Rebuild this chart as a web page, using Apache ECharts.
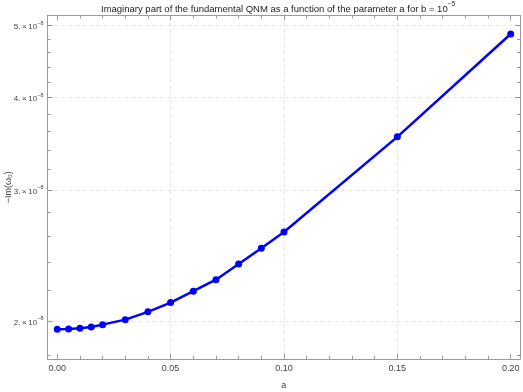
<!DOCTYPE html>
<html>
<head>
<meta charset="utf-8">
<script src="https://cdn.jsdelivr.net/npm/echarts@6/dist/echarts.min.js"></script>
<style>
  html, body { margin: 0; padding: 0; background: #fff; }
  #chart { width: 523px; height: 392px; }
</style>
</head>
<body>
<div id="chart"></div>
<script>
// parameter a and -Im(w0)
const aValues = [0, 0.005, 0.01, 0.015, 0.02, 0.03, 0.04, 0.05, 0.06, 0.07, 0.08, 0.09, 0.1, 0.15, 0.2];
const imValues = [1.949e-8, 1.950e-8, 1.955e-8, 1.963e-8, 1.977e-8, 2.008e-8, 2.057e-8, 2.117e-8,
  2.193e-8, 2.273e-8, 2.387e-8, 2.506e-8, 2.636e-8, 3.541e-8, 4.873e-8];

const xMajorTicks = [0, 0.05, 0.1, 0.15, 0.2];
const xMinorTicks = [0.01, 0.02, 0.03, 0.04, 0.06, 0.07, 0.08, 0.09, 0.11, 0.12, 0.13, 0.14,
  0.16, 0.17, 0.18, 0.19];
const xGridLines = [0.05, 0.1, 0.15];
const yMajorTicks = [2e-8, 3e-8, 4e-8, 5e-8];
const yMinorTicks = [1.8e-8, 2.2e-8, 2.4e-8, 2.6e-8, 2.8e-8, 3.2e-8, 3.4e-8, 3.6e-8, 3.8e-8,
  4.2e-8, 4.4e-8, 4.6e-8, 4.8e-8];

const X_MIN = -0.0043;
const X_MAX = 0.2041;
const Y_MIN = 1.777e-8;
const Y_MAX = 5.161e-8;

const FONT = 'Liberation Sans';
const FRAME = '#9a9a9a';
const TXT = '#444';

const chart = echarts.init(document.getElementById('chart'));

// one axis that only draws a set of ticks (frame ticks point inward)
function xTicks(pos, values, len, showLine) {
  return {
    type: 'value', position: pos, min: X_MIN, max: X_MAX,
    axisLine: { show: showLine, onZero: false, lineStyle: { color: FRAME, width: 1 } },
    axisTick: { show: true, inside: true, length: len, customValues: values, lineStyle: { color: FRAME } },
    axisLabel: { show: false },
    splitLine: { show: false },
  };
}
function yTicks(pos, values, len, showLine) {
  return {
    type: 'log', position: pos, min: Y_MIN, max: Y_MAX,
    axisLine: { show: showLine, onZero: false, lineStyle: { color: FRAME, width: 1 } },
    axisTick: { show: true, inside: true, length: len, customValues: values, lineStyle: { color: FRAME } },
    axisLabel: { show: false },
    splitLine: { show: false },
  };
}

const xMain = xTicks('bottom', xMajorTicks, 5, true);
xMain.name = 'a';
xMain.nameLocation = 'middle';
xMain.nameGap = 22;
xMain.nameMoveOverlap = false;
xMain.nameTextStyle = { fontFamily: FONT, fontSize: 9, color: TXT };
xMain.axisLabel = {
  show: true, customValues: xMajorTicks, margin: 5,
  fontFamily: FONT, fontSize: 9, color: TXT,
  formatter: (v) => v.toFixed(2),
};

const xGrid = xTicks('bottom', xGridLines, 0, false);
xGrid.axisTick.show = false;
xGrid.splitLine = { show: true, lineStyle: { color: '#e4e4e4', type: [4, 3], width: 1 } };

const yMain = yTicks('left', yMajorTicks, 5, true);
yMain.name = '−Im(ω₀)';
yMain.nameLocation = 'middle';
yMain.nameGap = 34;
yMain.nameRotate = 90;
yMain.nameMoveOverlap = false;
yMain.nameTextStyle = { fontFamily: FONT, fontSize: 9, color: TXT };
yMain.axisLabel = {
  show: true, customValues: yMajorTicks, margin: 4,
  formatter: (v) => {
    const m = Math.round(v / 1e-8);
    return '{b|' + m + '.\u2009×\u200910}{s|−8}';
  },
  rich: {
    b: { fontFamily: FONT, fontSize: 8, color: TXT, lineHeight: 11, verticalAlign: 'bottom' },
    s: { fontFamily: FONT, fontSize: 5.5, color: TXT, lineHeight: 11, verticalAlign: 'top' },
  },
};
yMain.splitLine = { show: true, lineStyle: { color: '#e4e4e4', type: [4, 3], width: 1 } };

const option = {
  backgroundColor: '#fff',
  animation: false,
  title: {
    text: '{t|Imaginary part of the fundamental QNM as a function of the parameter a for b = 10}{s|−5}',
    left: 101,
    top: 1,
    padding: 0,
    textStyle: {
      fontWeight: 'normal',
      rich: {
        t: { fontFamily: FONT, fontSize: 9.5, fontWeight: 'normal', color: '#222', lineHeight: 13, verticalAlign: 'bottom' },
        s: { fontFamily: FONT, fontSize: 6.5, fontWeight: 'normal', color: '#222', lineHeight: 13, verticalAlign: 'top' },
      },
    },
  },
  grid: { left: 47.5, right: 3, top: 15.5, bottom: 33, outerBoundsMode: 'none', containLabel: false },
  xAxis: [
    xMain,
    xTicks('bottom', xMinorTicks, 3, false),
    xTicks('top', xMajorTicks, 5, true),
    xTicks('top', xMinorTicks, 3, false),
    xGrid,
  ],
  yAxis: [
    yMain,
    yTicks('left', yMinorTicks, 3, false),
    yTicks('right', yMajorTicks, 5, true),
    yTicks('right', yMinorTicks, 3, false),
  ],
  series: [{
    type: 'line',
    xAxisIndex: 0,
    yAxisIndex: 0,
    data: aValues.map((a, i) => [a, imValues[i]]),
    symbol: 'circle',
    symbolSize: 7,
    showAllSymbol: true,
    itemStyle: { color: '#0000ff' },
    lineStyle: { color: '#0000ff', width: 2.5 },
  }],
};

chart.setOption(option);
</script>
</body>
</html>
